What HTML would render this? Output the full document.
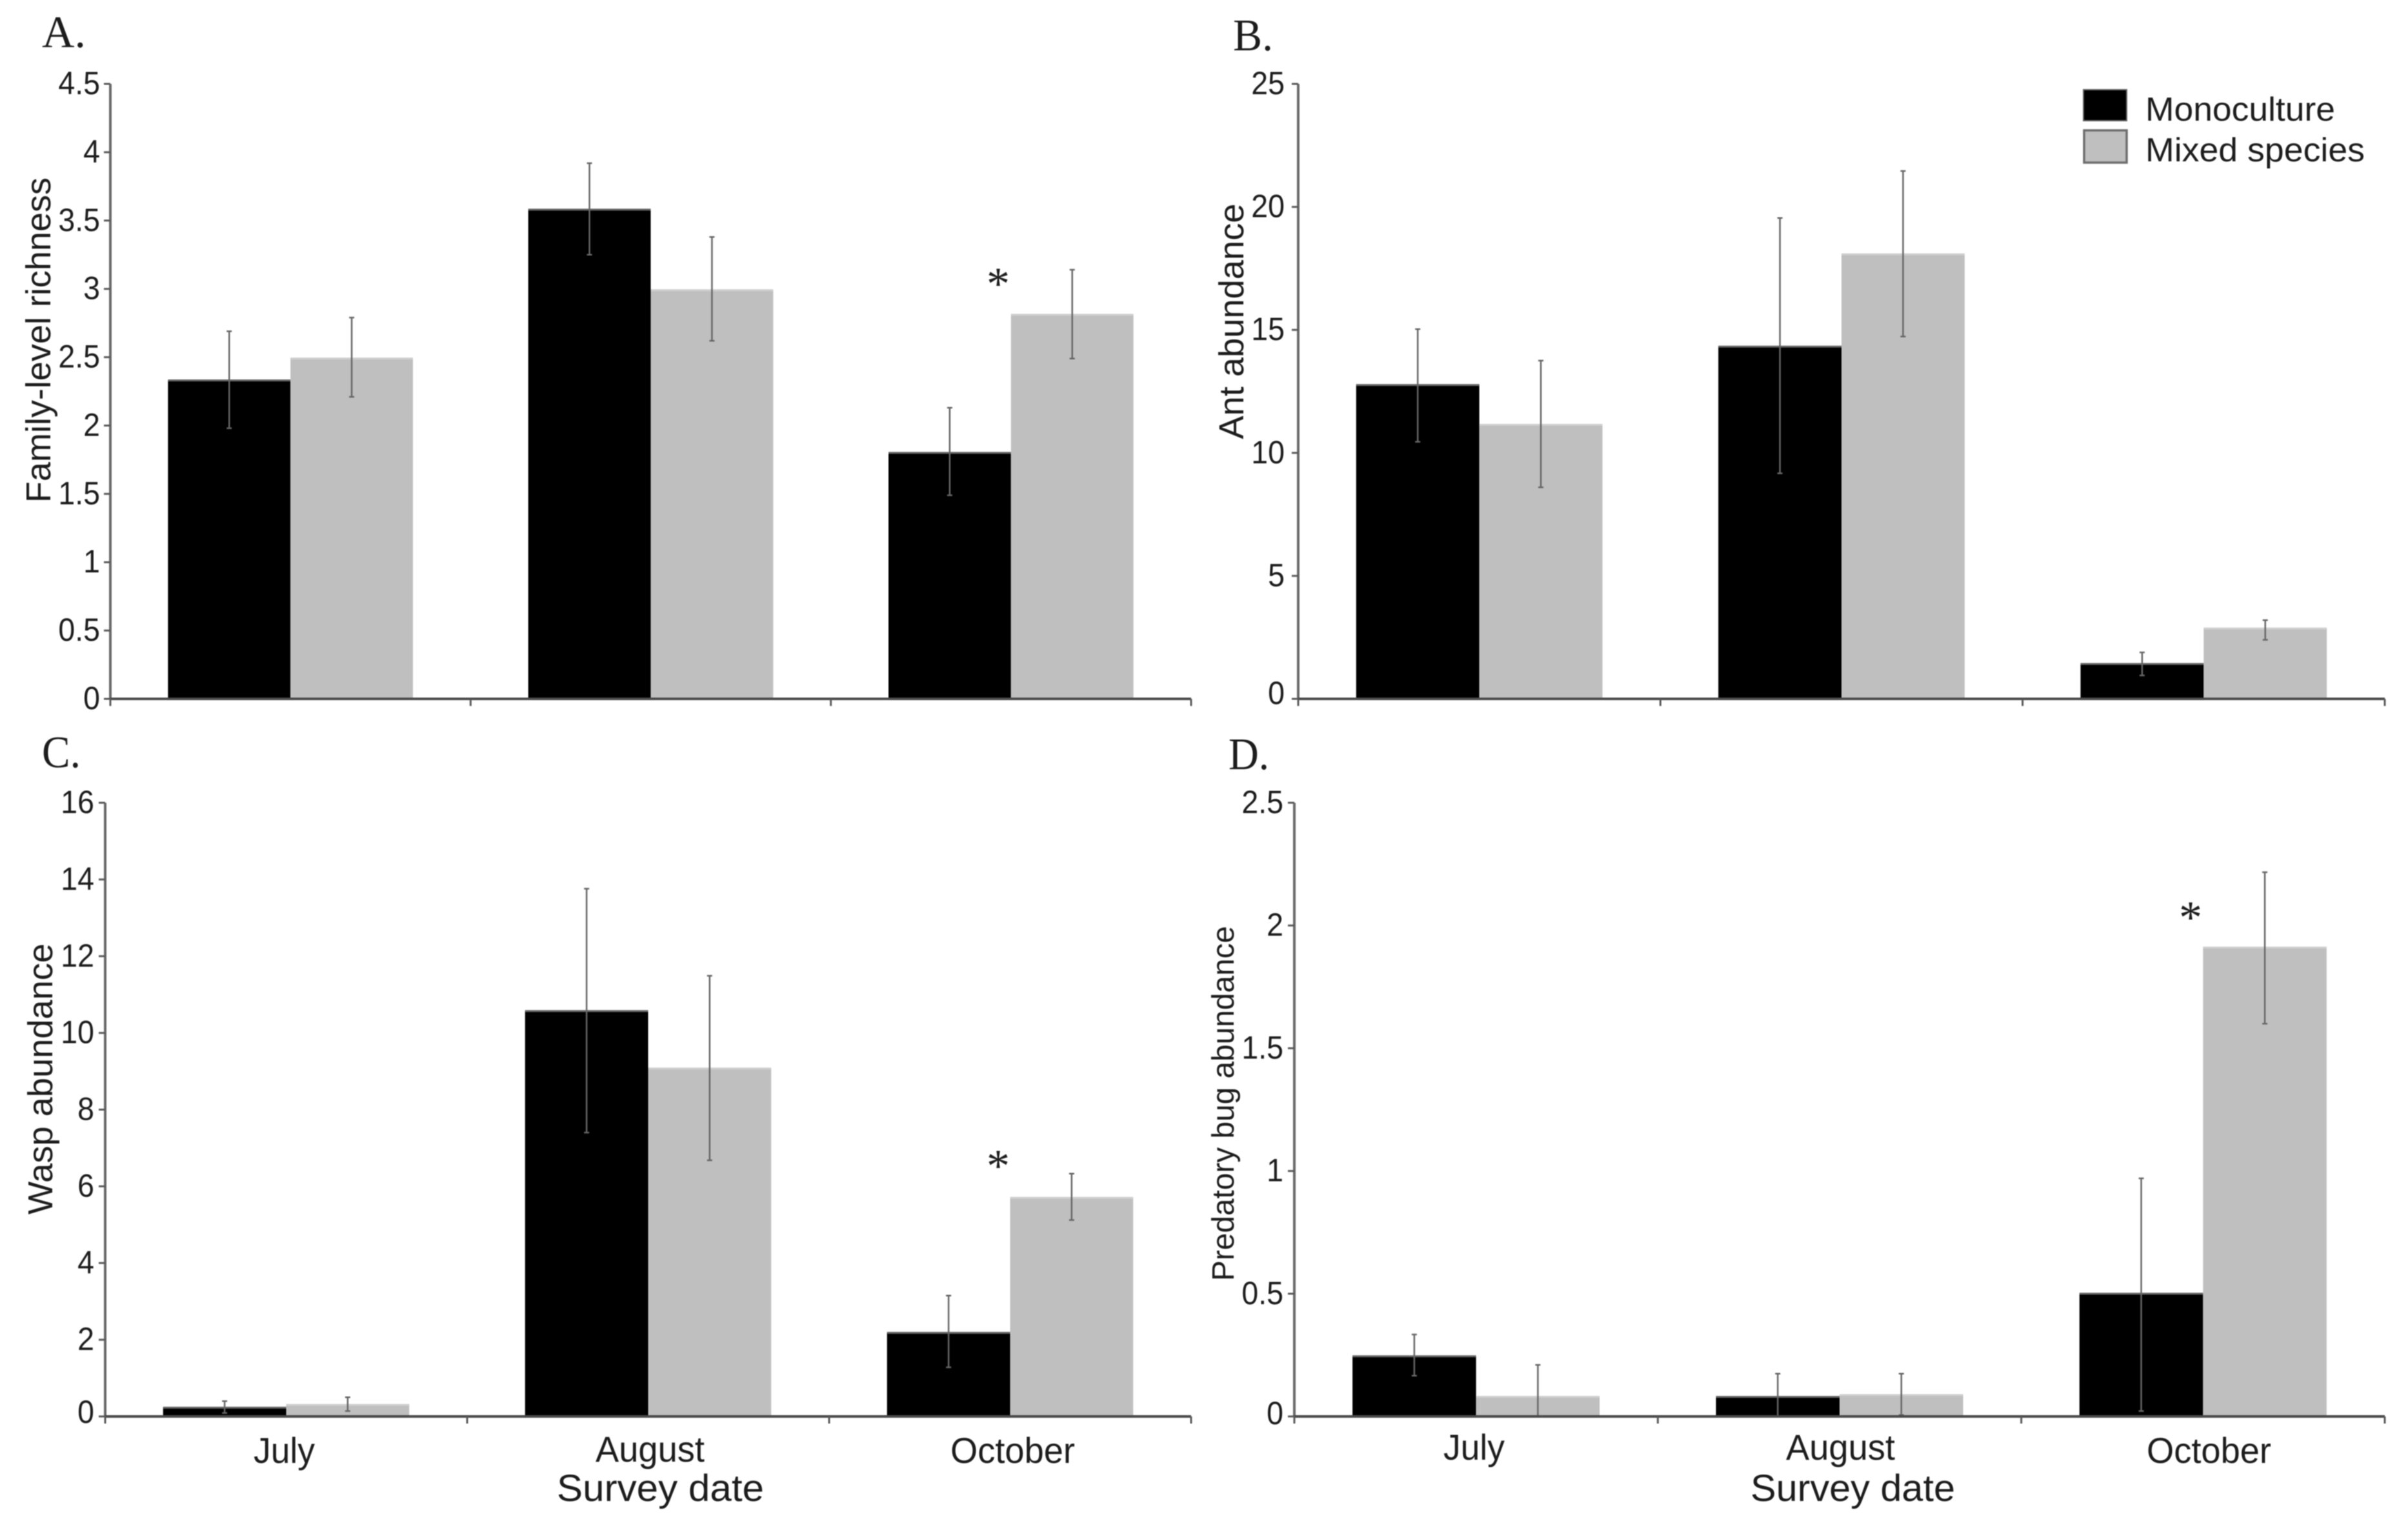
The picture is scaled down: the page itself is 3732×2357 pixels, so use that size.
<!DOCTYPE html>
<html lang="en">
<head>
<meta charset="utf-8">
<title>Arthropod abundance by survey date</title>
<style>
html,body{margin:0;padding:0;background:#fff;width:3732px;height:2357px;overflow:hidden}
svg{display:block;filter:blur(0.8px)}
text{font-family:"Liberation Sans",sans-serif;fill:#1c1c1c}
.letter{font-family:"Liberation Serif",serif;font-size:70px}
</style>
</head>
<body>
<svg id="figure" xmlns="http://www.w3.org/2000/svg" width="3732" height="2357" viewBox="0 0 3732 2357">
  <rect x="0" y="0" width="3732" height="2357" fill="#ffffff"/>
  <g id="panel-a"></g>
  <g id="panel-b"></g>
  <g id="panel-c"></g>
  <g id="panel-d"></g>

  <text class="letter" x="65" y="73" textLength="68" lengthAdjust="spacingAndGlyphs">A.</text>
  <text class="letter" x="1911" y="78" textLength="62" lengthAdjust="spacingAndGlyphs">B.</text>
  <text class="letter" x="65" y="1189" textLength="60" lengthAdjust="spacingAndGlyphs">C.</text>
  <text class="letter" x="1904" y="1192" textLength="63" lengthAdjust="spacingAndGlyphs">D.</text>

  <g>
    <rect x="3229" y="139" width="67" height="48" fill="#000000" stroke="#666666" stroke-width="2"/>
    <text x="3325" y="187" font-size="52" textLength="294" lengthAdjust="spacingAndGlyphs">Monoculture</text>
    <rect x="3230" y="202" width="66" height="50" fill="#bfbfbf" stroke="#6e6e6e" stroke-width="3.5"/>
    <text x="3325" y="250" font-size="52" textLength="340" lengthAdjust="spacingAndGlyphs">Mixed species</text>
  </g>

  <text x="863" y="2326" font-size="58" textLength="321" lengthAdjust="spacingAndGlyphs">Survey date</text>
  <text x="2713" y="2326" font-size="58" textLength="317" lengthAdjust="spacingAndGlyphs">Survey date</text>
</svg>

<script>
// Shared categories
const categories = ['July', 'August', 'October'];

// Panel A: family-level richness
const aTicks = ['0', '0.5', '1', '1.5', '2', '2.5', '3', '3.5', '4', '4.5'];
const aTickValues = [0, 0.5, 1, 1.5, 2, 2.5, 3, 3.5, 4, 4.5];
const aMono = [2.33, 3.58, 1.80];
const aMonoHi = [2.69, 3.92, 2.13];
const aMonoLo = [1.98, 3.25, 1.49];
const aMixed = [2.49, 2.99, 2.81];
const aMixedHi = [2.79, 3.38, 3.14];
const aMixedLo = [2.21, 2.62, 2.49];

// Panel B: ant abundance
const bTicks = ['0', '5', '10', '15', '20', '25'];
const bTickValues = [0, 5, 10, 15, 20, 25];
const bMono = [12.76, 14.32, 1.42];
const bMonoHi = [15.03, 19.55, 1.89];
const bMonoLo = [10.45, 9.17, 0.95];
const bMixed = [11.14, 18.07, 2.86];
const bMixedHi = [13.75, 21.46, 3.2];
const bMixedLo = [8.6, 14.73, 2.4];

// Panel C: wasp abundance
const cTicks = ['0', '2', '4', '6', '8', '10', '12', '14', '16'];
const cTickValues = [0, 2, 4, 6, 8, 10, 12, 14, 16];
const cMono = [0.23, 10.57, 2.18];
const cMonoHi = [0.4, 13.76, 3.15];
const cMonoLo = [0.09, 7.4, 1.28];
const cMixed = [0.3, 9.07, 5.7];
const cMixedHi = [0.5, 11.49, 6.33];
const cMixedLo = [0.14, 6.68, 5.12];

// Panel D: predatory bug abundance
const dTicks = ['0', '0.5', '1', '1.5', '2', '2.5'];
const dTickValues = [0, 0.5, 1, 1.5, 2, 2.5];
const dMono = [0.245, 0.08, 0.5];
const dMonoHi = [0.334, 0.174, 0.97];
const dMonoLo = [0.166, 0, 0.022];
const dMixed = [0.08, 0.087, 1.91];
const dMixedHi = [0.21, 0.174, 2.217];
const dMixedLo = [0, 0.006, 1.6];

const SVG_NS = 'http://www.w3.org/2000/svg';

function make(parent, tag, attrs, content) {
  const el = document.createElementNS(SVG_NS, tag);
  for (const key in attrs) el.setAttribute(key, attrs[key]);
  if (content !== undefined) el.textContent = content;
  parent.appendChild(el);
  return el;
}

function drawPanel(p) {
  const group = document.getElementById(p.id);
  const yScale = v => p.bottom - (v - p.yMin) / (p.yMax - p.yMin) * (p.bottom - p.top);
  const catWidth = (p.right - p.left) / categories.length;
  const barWidth = catWidth * 0.34;
  const catCentre = i => p.left + catWidth * (i + 0.5);

  // Bars and error bars
  const series = [
    {name: 'monoculture', offset: -barWidth, centreShift: -barWidth / 2, fill: '#000000', edge: '#666666', values: p.mono, hi: p.monoHi, lo: p.monoLo},
    {name: 'mixed-species', offset: 0, centreShift: barWidth / 2, fill: '#bfbfbf', edge: '#cfcfcf', values: p.mixed, hi: p.mixedHi, lo: p.mixedLo}
  ];
  series.forEach(s => {
    s.values.forEach((value, i) => {
      const x = catCentre(i) + s.offset;
      const bar = make(group, 'rect', {x: x, y: yScale(value), width: barWidth, height: yScale(0) - yScale(value), fill: s.fill});
      
      
      const edge = make(group, 'line', {x1: x, x2: x + barWidth, y1: yScale(value), y2: yScale(value), stroke: s.edge, 'stroke-width': 3});
      
      
    });
  });
  series.forEach(s => {
    s.values.forEach((value, i) => {
      const cx = catCentre(i) + s.centreShift;
      const err = make(group, 'path', {
        d: 'M' + (cx - 4) + ' ' + yScale(s.hi[i]) + 'H' + (cx + 4) +
           'M' + cx + ' ' + yScale(s.hi[i]) + 'V' + yScale(s.lo[i]) +
           'M' + (cx - 4) + ' ' + yScale(s.lo[i]) + 'H' + (cx + 4),
        fill: 'none', stroke: '#666666', 'stroke-width': 2.5
      });
      
      
    });
  });

  // Axes
  const yAxis = make(group, 'line', {x1: p.left, x2: p.left, y1: p.top, y2: p.bottom, stroke: '#6a6a6a', 'stroke-width': 4});
  
  
  const xAxis = make(group, 'line', {x1: p.left, x2: p.right, y1: p.bottom, y2: p.bottom, stroke: '#4a4a4a', 'stroke-width': 4});
  
  

  p.tickValues.forEach((value, i) => {
    const tick = make(group, 'line', {x1: p.left - 10, x2: p.left, y1: yScale(value), y2: yScale(value), stroke: '#5a5a5a', 'stroke-width': 3});
    
    
    const labelY = yScale(value) + 16 + (value === 0 ? p.zeroShift : 0);
    const label = make(group, 'text', {
      transform: 'translate(' + (p.left - p.labelGap) + ' ' + labelY + ') scale(0.93 1)',
      'text-anchor': 'end', 'font-size': 50
    }, p.ticks[i]);
    
    
  });

  for (let i = 0; i <= categories.length; i++) {
    const tick = make(group, 'line', {x1: p.left + catWidth * i, x2: p.left + catWidth * i, y1: p.bottom, y2: p.bottom + 11, stroke: '#5a5a5a', 'stroke-width': 3});
    
    
  }

  // Category labels (bottom row of panels only)
  if (p.catLabels) {
    p.catLabels.forEach((c, i) => {
      const label = make(group, 'text', {x: c.x, y: c.y, 'font-size': 56, textLength: c.w, lengthAdjust: 'spacingAndGlyphs'}, categories[i]);
      
      
    });
  }

  // Y-axis title
  const title = make(group, 'text', {
    transform: 'translate(' + p.titleX + ' ' + p.titleY + ') rotate(-90)',
    'text-anchor': 'middle', 'font-size': p.titleSize, textLength: p.titleLength, lengthAdjust: 'spacingAndGlyphs', fill: '#333333'
  }, p.title);
  
  

  // Significance marker
  if (p.star) {
    const star = make(group, 'text', {x: p.star.x, y: p.star.y + 34, 'text-anchor': 'middle', 'font-size': 72, style: 'font-family:"Liberation Serif",serif'}, '*');
    
    
  }
}

drawPanel({
  id: 'panel-a', left: 171, right: 1846, top: 130, bottom: 1083, yMin: 0, yMax: 4.5, labelGap: 16, zeroShift: 0,
  ticks: aTicks, tickValues: aTickValues,
  mono: aMono, monoHi: aMonoHi, monoLo: aMonoLo, mixed: aMixed, mixedHi: aMixedHi, mixedLo: aMixedLo,
  title: 'Family-level richness', titleX: 78, titleY: 527, titleSize: 54, titleLength: 504,
  star: {x: 1547, y: 430}
});

drawPanel({
  id: 'panel-b', left: 2012, right: 3696, top: 130, bottom: 1083, yMin: 0, yMax: 25, labelGap: 21, zeroShift: -8,
  ticks: bTicks, tickValues: bTickValues,
  mono: bMono, monoHi: bMonoHi, monoLo: bMonoLo, mixed: bMixed, mixedHi: bMixedHi, mixedLo: bMixedLo,
  title: 'Ant abundance', titleX: 1927, titleY: 498, titleSize: 54, titleLength: 365
});

drawPanel({
  id: 'panel-c', left: 163, right: 1846, top: 1244, bottom: 2195, yMin: 0, yMax: 16, labelGap: 17, zeroShift: -6,
  ticks: cTicks, tickValues: cTickValues,
  mono: cMono, monoHi: cMonoHi, monoLo: cMonoLo, mixed: cMixed, mixedHi: cMixedHi, mixedLo: cMixedLo,
  title: 'Wasp abundance', titleX: 81, titleY: 1672, titleSize: 54, titleLength: 420,
  catLabels: [{x: 393, y: 2267, w: 95}, {x: 923, y: 2265, w: 169}, {x: 1473, y: 2267, w: 193}],
  star: {x: 1547, y: 1797}
});

drawPanel({
  id: 'panel-d', left: 2006, right: 3696, top: 1244, bottom: 2195, yMin: 0, yMax: 2.5, labelGap: 17, zeroShift: -4,
  ticks: dTicks, tickValues: dTickValues,
  mono: dMono, monoHi: dMonoHi, monoLo: dMonoLo, mixed: dMixed, mixedHi: dMixedHi, mixedLo: dMixedLo,
  title: 'Predatory bug abundance', titleX: 1912, titleY: 1710, titleSize: 48, titleLength: 550,
  catLabels: [{x: 2237, y: 2262, w: 95}, {x: 2768, y: 2262, w: 169}, {x: 3327, y: 2267, w: 193}],
  star: {x: 3395, y: 1412}
});
</script>
</body>
</html>
